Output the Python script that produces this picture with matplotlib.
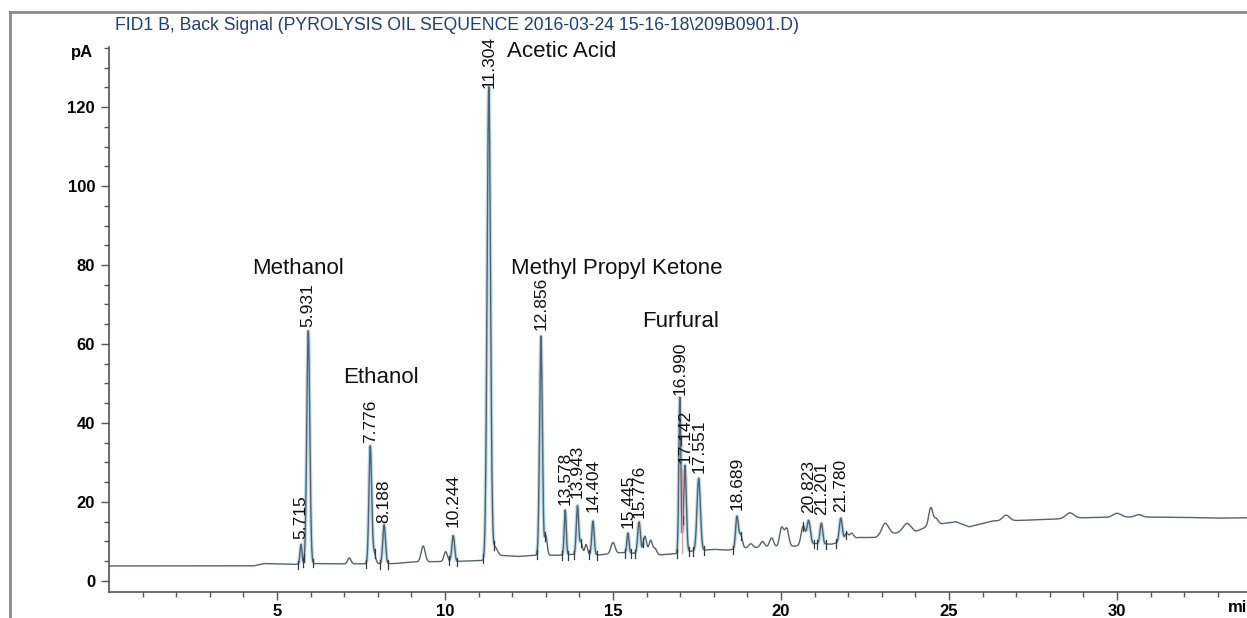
import numpy as np
import matplotlib
matplotlib.use("Agg")
import matplotlib.pyplot as plt
from matplotlib.lines import Line2D

plt.rcParams["font.family"] = ["Liberation Sans", "DejaVu Sans"]

# Integrated peaks: retention time (min), height above baseline (pA), width sigma (min)
peak_rt = [5.715, 5.931, 7.776, 8.188, 10.244, 11.304, 12.856, 13.578, 13.943,
           14.404, 15.445, 15.776, 16.990, 17.142, 17.551, 18.689, 20.823,
           21.201, 21.780]
peak_amp = [5.0, 59.0, 29.5, 9.8, 6.5, 119.5, 55.5, 11.3, 12.2,
            8.5, 5.0, 8.0, 39.5, 22.0, 18.3, 8.0, 5.9,
            5.2, 6.0]
peak_sigma = [0.03, 0.045, 0.04, 0.04, 0.04, 0.05, 0.04, 0.03, 0.035,
              0.035, 0.03, 0.04, 0.03, 0.04, 0.05, 0.04, 0.05,
              0.04, 0.045]

# Minor, unlabelled peaks and bumps
minor_rt = [7.15, 7.88, 9.35, 10.02, 11.48, 13.0, 14.05, 14.2, 15.0, 15.95,
            16.12, 16.25, 18.8, 19.1, 19.45, 19.72, 20.02, 20.17, 20.66, 21.95,
            22.1, 23.1, 23.75, 24.46, 24.62, 26.7, 28.6, 30.0, 30.65]
minor_amp = [1.5, 3.0, 4.0, 2.5, 2.5, 5.0, 3.0, 2.5, 2.8, 4.5,
             3.5, 1.5, 3.5, 1.0, 1.5, 2.3, 4.8, 4.5, 4.8, 1.8,
             1.5, 3.0, 2.3, 4.5, 1.5, 1.4, 1.4, 1.0, 0.6]
minor_sigma = [0.05, 0.05, 0.06, 0.05, 0.07, 0.04, 0.04, 0.04, 0.06, 0.05,
               0.05, 0.05, 0.05, 0.06, 0.06, 0.06, 0.06, 0.06, 0.06, 0.05,
               0.06, 0.10, 0.12, 0.06, 0.06, 0.10, 0.12, 0.12, 0.10]

# Baseline drift of the detector signal
base_t = [0, 4.3, 4.6, 5.5, 6.2, 7.0, 8.5, 9.0, 10.5, 11.2, 11.6, 12.2, 12.7,
          13.3, 14.0, 14.6, 15.3, 16.4, 17.0, 17.3, 18.0, 18.4, 19.0, 19.5,
          20.4, 21.0, 21.5, 22.3, 22.8, 23.3, 24.0, 24.4, 25.2, 25.6, 26.3,
          27.0, 28.0, 29.0, 30.5, 32.0, 33.0, 34.0]
base_pa = [3.8, 3.8, 4.4, 4.2, 4.4, 4.3, 4.4, 4.8, 5.0, 5.2, 6.5, 6.2, 6.5,
           6.5, 6.8, 6.6, 7.2, 6.6, 7.0, 7.5, 8.0, 7.8, 8.4, 8.5,
           8.8, 9.5, 9.3, 11.0, 11.0, 12.0, 12.4, 14.0, 15.0, 13.7, 15.2,
           15.3, 15.6, 16.0, 16.2, 16.1, 15.9, 16.0]

# Compound annotations
compound_names = ["Methanol", "Ethanol", "Acetic Acid", "Methyl Propyl Ketone", "Furfural"]
compound_x = [5.63, 8.08, 11.86, 11.95, 15.87]
compound_y = [79.2, 51.4, 134.0, 79.2, 65.6]
compound_ha = ["center", "center", "left", "left", "left"]

# Bottom position (pA) of each retention-time label
label_y = [10.6, 64.3, 35.0, 14.7, 13.7, 124.8, 63.5, 19.2, 21.0,
           17.5, 13.4, 16.0, 47.0, 29.9, 27.3, 18.0, 17.2, 16.7, 17.5]

x_major = [5, 10, 15, 20, 25, 30]
y_major = [0, 20, 40, 60, 80, 100, 120]

title = "FID1 B, Back Signal (PYROLYSIS OIL SEQUENCE 2016-03-24 15-16-18\\209B0901.D)"

# ---- signal ----
t = np.linspace(0, 34.0, 14000)
signal = np.interp(t, base_t, base_pa)
for rt, a, s in zip(peak_rt + minor_rt, peak_amp + minor_amp, peak_sigma + minor_sigma):
    signal = signal + a * np.exp(-0.5 * ((t - rt) / s) ** 2)

W, H = 1247, 618
fig = plt.figure(figsize=(W / 100, H / 100), dpi=100)
ax = fig.add_axes([109 / W, 1 - 592 / H, 1 - 109 / W, (592 - 47) / H])

trace_col = "#56626d"
halo_col = "#b9ddec"

# light blue shading along integrated peaks
for rt, s in zip(peak_rt, peak_sigma):
    m = np.abs(t - rt) < 3.2 * s
    ax.plot(t[m], signal[m], color=halo_col, lw=2.6, solid_capstyle="butt", zorder=1)

ax.plot(t, signal, color=trace_col, lw=1.0, zorder=2)

# integration start/stop marks
for rt, s in zip(peak_rt, peak_sigma):
    for edge in (rt - 3.2 * s, rt + 3.2 * s):
        yv = np.interp(edge, t, signal)
        ax.plot([edge, edge], [yv - 1.3, yv + 0.9], color="#333a40", lw=0.9, zorder=3)

# drop line between the two peaks of the furfural group
mwin = (t > 17.0) & (t < 17.13)
tv = t[mwin][np.argmin(signal[mwin])]
ax.plot([tv, tv], [np.interp(tv, base_t, base_pa), 28], color="#e59a9a", lw=0.9, zorder=3)

# retention-time labels
for rt, ly in zip(peak_rt, label_y):
    ax.text(rt, ly, f"{rt:.3f}", rotation=90, ha="center", va="bottom",
            fontsize=12.5, color="#111111", zorder=4)

for name, cx, cy, ha in zip(compound_names, compound_x, compound_y, compound_ha):
    ax.text(cx, cy, name, ha=ha, va="center", fontsize=16, color="#111111")

ax.set_xlim(0, 33.87)
ax.set_ylim(-2.8, 135.2)
ax.set_xticks(x_major)
ax.set_xticks(np.arange(1, 34), minor=True)
ax.set_yticks(y_major)
ax.set_yticks(np.arange(0, 136, 5), minor=True)
ax.set_xticklabels([str(v) for v in x_major], fontsize=12, fontweight="bold")
ax.set_yticklabels([str(v) for v in y_major], fontsize=12, fontweight="bold")
ax.tick_params(axis="both", which="major", length=6, width=1.0, color="#555555", pad=4)
ax.tick_params(axis="both", which="minor", length=3.5, width=1.0, color="#555555")
ax.tick_params(axis="x", which="major", pad=3)

for side in ("top", "right"):
    ax.spines[side].set_visible(False)
for side in ("left", "bottom"):
    ax.spines[side].set_color("#555555")
    ax.spines[side].set_linewidth(1.2)

fig.text(93 / W, 1 - 53 / H, "pA", ha="right", va="center", fontsize=12, fontweight="bold")
fig.text(1228 / W, 1 - 607 / H, "min", ha="left", va="center", fontsize=12, fontweight="bold")
fig.text(115 / W, 1 - 25 / H, title, ha="left", va="center", fontsize=12.7, color="#1d3f7a")

# outer frame
fig.add_artist(Line2D([10 / W, 10 / W], [0, 1 - 12 / H], color="#8a8a8a", lw=2.0))
fig.add_artist(Line2D([10 / W, 1], [1 - 12 / H, 1 - 12 / H], color="#8a8a8a", lw=2.0))

fig.savefig("out.png", dpi=100)
